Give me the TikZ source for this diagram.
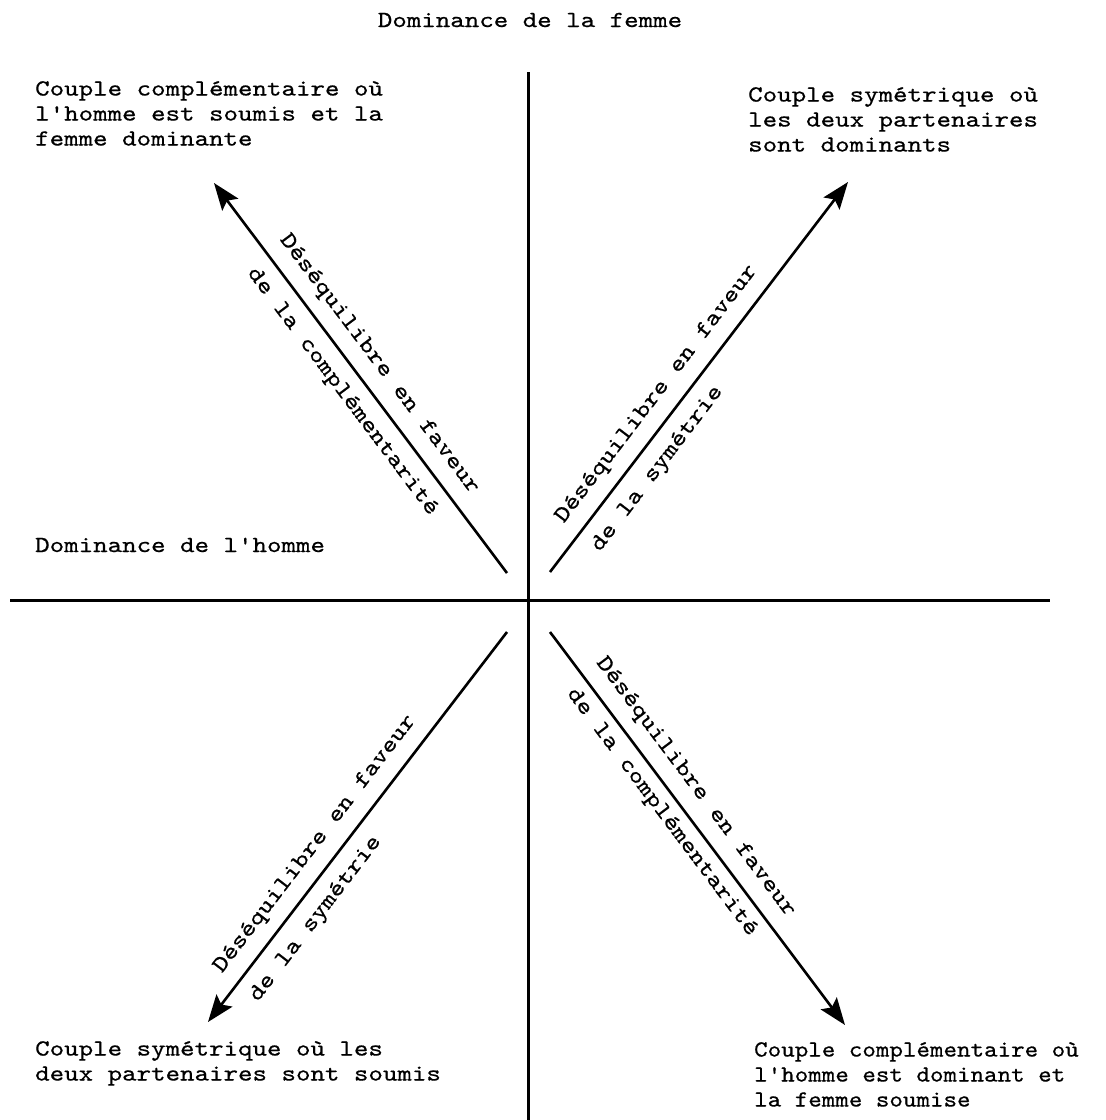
\documentclass[tikz,border=0pt]{standalone}
\usepackage{fontspec}
\newfontfamily\typew[FakeStretch=1.2,FakeBold=0.6]{lmmono10-regular.otf}
\newfontfamily\typen[FakeStretch=1.12,FakeBold=0.6]{lmmono10-regular.otf}
\usetikzlibrary{arrows.meta}

\begin{document}
\begin{tikzpicture}
		[x=1pt,y=-1pt,
		txt/.style={inner sep=0pt,font=\typew\fontsize{23}{25}\selectfont},
		corner/.style={txt,align=left,anchor=north west},
		axe/.style={line width=3pt},
		fleche/.style={line width=2.6pt,-{Stealth[length=27pt,width=20pt,inset=5pt]}},
		oblique/.style={txt,sloped}]
		\useasboundingbox (0,0) rectangle (1106,1120);

		\coordinate (haut) at (528,72);
		\coordinate (bas) at (528,1120);
		\coordinate (gauche) at (10,600);
		\coordinate (droite) at (1050,600);
		\draw [axe] (haut) -- (bas);
		\draw [axe] (gauche) -- (droite);

		\node [txt,anchor=base] (femme) at (530,27) {Dominance de la femme};
		\node [txt,anchor=base west] (homme) at (35,552) {Dominance de l'homme};

		\node [corner] (cHG) at (35,81) {Couple complémentaire où\\l'homme est soumis et la\\femme dominante};
		\node [corner] (cHD) at (748,87) {Couple symétrique où\\les deux partenaires\\sont dominants};
		\node [corner] (cBG) at (35,1041) {Couple symétrique où les\\deux partenaires sont soumis};
		\node [corner,font=\typen\fontsize{23}{25}\selectfont] (cBD) at (754,1042) {Couple complémentaire où\\l'homme est dominant et\\la femme soumise};

		\coordinate (hgA) at (507,573);
		\coordinate (hgB) at (214,183);
		\coordinate (hdA) at (550,572);
		\coordinate (hdB) at (848,182);
		\coordinate (bgA) at (507,632);
		\coordinate (bgB) at (208,1022);
		\coordinate (bdA) at (550,632);
		\coordinate (bdB) at (845,1025);

		\draw [fleche] (hgA) -- (hgB)
			node [oblique,above=12pt,pos=0.5] (hg1) {Déséquilibre en faveur}
			node [oblique,below=12pt,pos=0.5] (hg2) {de la complémentarité};
		\draw [fleche] (hdA) -- (hdB)
			node [oblique,above=12pt,pos=0.42] (hd1) {Déséquilibre en faveur}
			node [oblique,below=12pt,pos=0.30] (hd2) {de la symétrie};
		\draw [fleche] (bgA) -- (bgB)
			node [oblique,above=12pt,pos=0.58] (bg1) {Déséquilibre en faveur}
			node [oblique,below=12pt,pos=0.70] (bg2) {de la symétrie};
		\draw [fleche] (bdA) -- (bdB)
			node [oblique,above=12pt,pos=0.43] (bd1) {Déséquilibre en faveur}
			node [oblique,below=8pt,pos=0.43] (bd2) {de la complémentarité};

	\end{tikzpicture}
\end{document}
